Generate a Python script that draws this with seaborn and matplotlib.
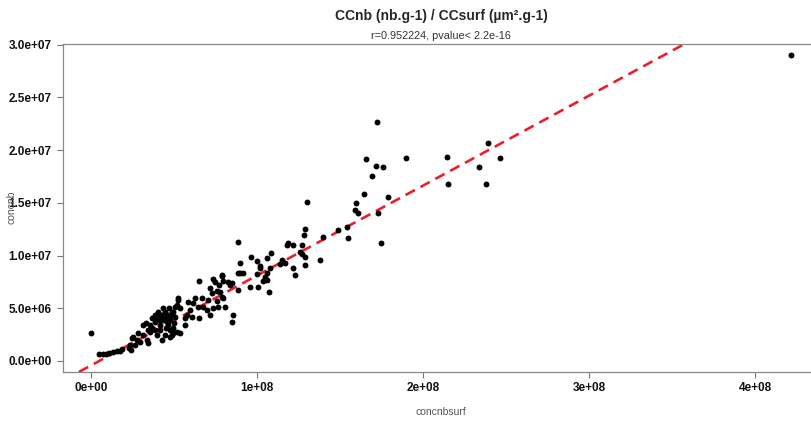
import numpy as np
import pandas as pd
import seaborn as sns
import matplotlib.pyplot as plt

sns.set_style("white")
plt.rcParams["font.family"] = ["Liberation Sans", "DejaVu Sans"]

# concentrations, in units of 1e6
concnbsurf = [
    0, 4.8, 7.2, 9.0, 10.8, 13.3, 15.7, 17.5, 18.7,
    22.9, 23.5, 24.7, 25.3, 27.7, 29.5, 31.3, 33.7, 34.3, 24.1,
    31.3, 33.1, 35.5, 36.7, 38.6, 39.8, 40.4, 41.6, 43.4, 44.6, 45.8, 46.4,
    47.6, 48.8, 47.6, 50.6, 51.8, 52.4, 51.8,
    38.6, 40.4, 41.6, 42.8, 43.4, 44.6, 45.2, 46.4, 41.6, 38.6, 36.7, 44.6,
    42.8, 39.8, 47.6, 48.8, 47.0, 50.0, 35.5, 34.3, 28.3, 26.5,
    53.6, 52.4, 50.6, 49.4, 48.8, 49.4, 49.4, 53.6, 56.6, 56.6, 57.8, 58.4,
    59.6, 60.8, 61.4, 62.7, 64.5, 65.1, 65.1, 66.9, 67.5, 69.9, 70.5, 71.7,
    71.7, 72.9, 73.5, 73.5, 74.7, 75.9, 75.9, 76.5, 77.1, 77.7, 78.9, 78.9,
    79.5, 79.5, 80.7, 82.5, 83.7, 84.9, 84.9, 85.5, 88.6, 89.8, 91.6, 95.8,
    100.6, 103.6, 104.8, 106.0, 107.2, 107.8, 101.8, 100.0, 78.9,
    88.6, 89.8, 96.4, 100.0, 101.8, 106.0, 108.4, 88.6, 113.9, 116.9, 118.1,
    118.7, 106.0, 115.1, 121.7, 122.9, 121.7, 127.1, 125.9, 127.1, 128.9,
    137.9, 128.9, 128.9, 128.3, 130.1, 139.8, 148.8, 154.2, 154.8, 174.7,
    159.0, 159.6, 160.8, 172.9, 164.5, 178.9, 169.3, 165.7, 171.7, 175.9, 172.3,
    189.8, 214.5, 215.1, 233.7, 239.1, 246.4, 237.9, 421.7,
]
concnb = [
    2.66, 0.66, 0.66, 0.66, 0.76, 0.85, 0.95, 0.95, 1.14,
    1.23, 1.52, 2.18, 2.28, 1.99, 1.80, 2.47, 1.99, 1.71, 1.04,
    3.42, 3.61, 3.42, 3.13, 3.70, 4.08, 4.18, 3.89, 5.03, 4.08, 3.70, 3.42,
    2.94, 2.47, 2.28, 4.18, 5.31, 5.79, 2.75,
    4.37, 4.65, 3.42, 4.37, 3.89, 4.65, 3.13, 4.37, 2.94, 2.94, 4.08, 2.47,
    1.99, 2.47, 3.89, 4.65, 5.03, 3.61, 2.75, 2.94, 2.66, 1.52,
    5.03, 5.98, 5.12, 4.65, 4.37, 3.13, 2.66, 2.66, 3.42, 4.08, 4.37, 5.60,
    4.84, 4.18, 5.50, 5.98, 5.12, 4.08, 7.59, 5.98, 5.12, 4.84, 5.79, 6.93,
    4.37, 6.45, 7.78, 5.03, 7.50, 6.64, 5.69, 5.12, 7.21, 6.55, 8.07, 6.07,
    7.59, 5.98, 5.12, 7.50, 7.21, 7.40, 3.70, 4.37, 6.74, 8.35, 8.35, 7.02,
    7.02, 7.59, 7.97, 7.69, 6.55, 8.83, 8.83, 8.26, 8.16,
    11.29, 9.30, 9.87, 9.49, 9.02, 9.77, 10.25, 8.35, 9.21, 9.30, 11.01,
    11.20, 8.35, 9.58, 8.83, 8.16, 11.01, 11.01, 10.34, 10.15, 9.87,
    9.58, 9.11, 12.53, 11.96, 15.09, 11.77, 12.43, 12.72, 11.67, 11.20,
    14.33, 14.99, 14.05, 14.05, 15.85, 15.56, 17.56, 19.17, 18.51, 18.41, 22.68,
    19.26, 19.36, 16.80, 18.41, 20.69, 19.26, 16.80, 29.04,
]

# fitted line (abline of the lm)
fit_intercept = -4.2e5
fit_slope = 0.0853

df = pd.DataFrame({
    "concnbsurf": np.array(concnbsurf) * 1e6,
    "concnb": np.array(concnb) * 1e6,
})

fig = plt.figure(figsize=(8.12, 4.23), dpi=100)
# plot box runs past the right edge of the picture, as in the cropped original
ax = fig.add_axes([0.0776, 0.1206, 0.9446, 0.7754])

sns.scatterplot(data=df, x="concnbsurf", y="concnb", ax=ax,
                color="black", s=18, linewidth=0, zorder=3)
ax.axline((0, fit_intercept), slope=fit_slope, color="#e8202a",
          lw=1.9, dashes=(4, 2.4), zorder=2)

ax.set_xlim(-1.687e7, 4.4518e8)
ax.set_ylim(-1.044e6, 3.0076e7)

xticks = [0, 1e8, 2e8, 3e8, 4e8]
xticklabels = ["0e+00", "1e+08", "2e+08", "3e+08", "4e+08"]
yticks = [0, 5e6, 1e7, 1.5e7, 2e7, 2.5e7, 3e7]
yticklabels = ["0.0e+00", "5.0e+06", "1.0e+07", "1.5e+07", "2.0e+07",
               "2.5e+07", "3.0e+07"]
ax.set_xticks(xticks)
ax.set_xticklabels(xticklabels, fontsize=8.5, fontweight="bold")
ax.set_yticks(yticks)
ax.set_yticklabels(yticklabels, fontsize=8.5, fontweight="bold")
ax.tick_params(axis="both", direction="out", length=4.3, width=0.8,
               color="#777777", labelcolor="#111111",
               bottom=True, left=True)
ax.tick_params(axis="x", pad=3)
ax.tick_params(axis="y", pad=4)

for sp in ax.spines.values():
    sp.set_color("#888888")
    sp.set_linewidth(0.9)
ax.spines["right"].set_visible(False)

ax.set_xlabel("")
ax.set_ylabel("")
fig.text(441 / 812, 1 - 412 / 423, "concnbsurf", ha="center", va="center",
         fontsize=7.5, color="#555555")
fig.text(12 / 812, 1 - 207 / 423, "concnb", ha="center", va="center",
         rotation=90, fontsize=7.5, color="#555555")

fig.text(441 / 812, 1 - 16 / 423, "CCnb (nb.g-1) / CCsurf (µm².g-1)",
         ha="center", va="center", fontsize=10, fontweight="bold")
fig.text(441 / 812, 1 - 36 / 423, "r=0.952224, pvalue< 2.2e-16",
         ha="center", va="center", fontsize=7.8, color="#333333")

fig.savefig("out.png", dpi=100)
